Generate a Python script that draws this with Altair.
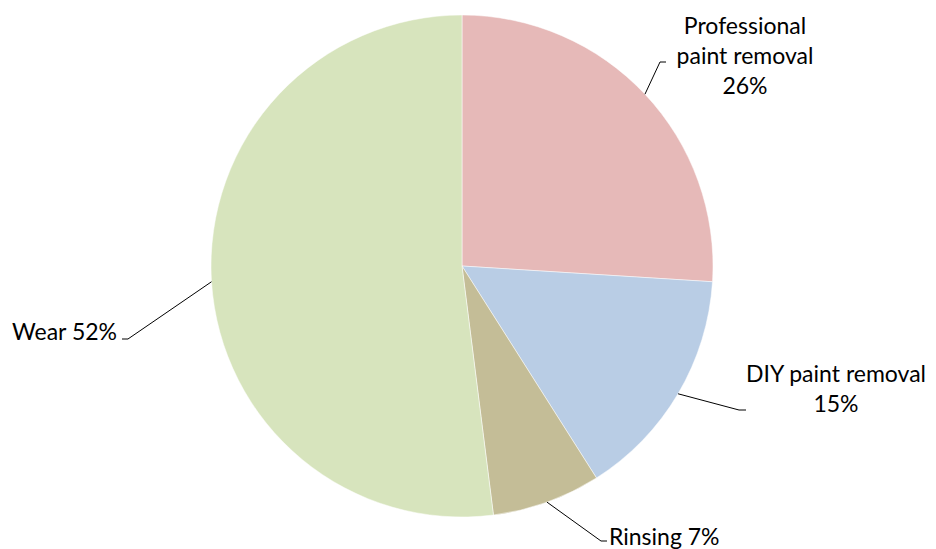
import math
import altair as alt
import pandas as pd

categories = ["Professional paint removal", "DIY paint removal", "Rinsing", "Wear"]
values = [26, 15, 7, 52]
label_texts = ["Professional\npaint removal\n26%", "DIY paint removal\n15%", "Rinsing 7%", "Wear 52%"]
colors = ["#E6B9B8", "#B9CDE5", "#C4BD97", "#D7E4BD"]

# layout (chart pixel coordinates, origin at top-left of the plot area)
W, H = 920, 541
CX, CY, R = 454, 258, 251
# label anchor (first line), elbow of the leader line, end of the leader line, text alignment
layout = [
    dict(tx=737, ty=19, align="center", ex=652, ey=54, hx=658, hy=54),
    dict(tx=828, ty=367, align="center", ex=731, ey=402, hx=738, hy=402),
    dict(tx=601, ty=530, align="left", ex=593, ey=533, hx=599, hy=533),
    dict(tx=109, ty=325, align="right", ex=120, ey=331, hx=114, hy=331),
]

df = pd.DataFrame({"cat": categories, "value": values, "idx": range(len(values))})

total = sum(values)
seg_rows = []
lab_rows = []
cum = 0
for i, v in enumerate(values):
    mid = (cum + v / 2) / total * 2 * math.pi
    cum += v
    sx = CX + R * math.sin(mid)
    sy = CY - R * math.cos(mid)
    L = layout[i]
    seg_rows.append(dict(x=sx, y=sy, x2=L["ex"], y2=L["ey"]))
    seg_rows.append(dict(x=L["ex"], y=L["ey"], x2=L["hx"], y2=L["hy"]))
    lab_rows.append(dict(x=L["tx"], y=L["ty"], text=label_texts[i], align=L["align"]))

segs = pd.DataFrame(seg_rows)
labs = pd.DataFrame(lab_rows)

xs = alt.Scale(domain=[0, W], range=[0, W])
ys = alt.Scale(domain=[0, H], range=[0, H])

pie = alt.Chart(df).mark_arc(outerRadius=R, stroke="white", strokeWidth=0.5).encode(
    theta=alt.Theta("value:Q", stack=True),
    order=alt.Order("idx:Q"),
    color=alt.Color("cat:N", scale=alt.Scale(domain=categories, range=colors), legend=None),
    x=alt.value(CX),
    y=alt.value(CY),
)

lines = alt.Chart(segs).mark_rule(color="black", strokeWidth=1).encode(
    x=alt.X("x:Q", scale=xs, axis=None),
    y=alt.Y("y:Q", scale=ys, axis=None),
    x2="x2:Q",
    y2="y2:Q",
)

def text_layer(al):
    return alt.Chart(labs[labs["align"] == al]).mark_text(
        align=al, baseline="middle", lineBreak="\n", lineHeight=30,
        font="Lato", fontSize=23, color="black",
    ).encode(
        x=alt.X("x:Q", scale=xs, axis=None),
        y=alt.Y("y:Q", scale=ys, axis=None),
        text="text:N",
    )

chart = alt.layer(pie, lines, text_layer("center"), text_layer("left"), text_layer("right")).properties(
    width=W, height=H, padding=0, autosize=alt.AutoSizeParams(type="none")
).configure_view(stroke=None)

chart.save("out.html", embed_options={"renderer": "svg", "actions": False})
